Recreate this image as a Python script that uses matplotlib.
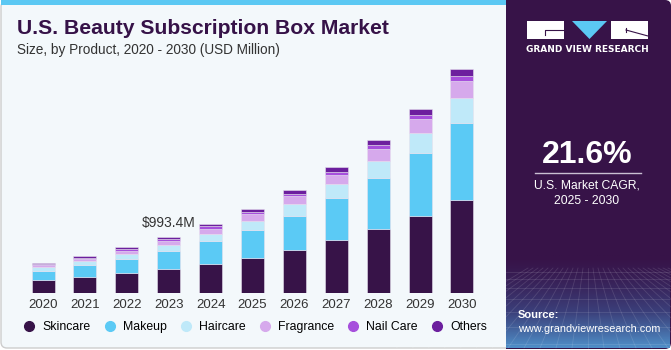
import matplotlib.pyplot as plt
import numpy as np
from matplotlib.patches import FancyBboxPatch, Rectangle, Polygon
from matplotlib.lines import Line2D

years = ["2020", "2021", "2022", "2023", "2024", "2025", "2026", "2027", "2028", "2029", "2030"]
skincare = [223.5, 276.7, 347.7, 418.7, 519.8, 626.2, 768.1, 934.9, 1135.4, 1371.3, 1655.1]
makeup = [172.0, 212.9, 260.8, 319.3, 395.6, 491.4, 603.2, 745.1, 910.1, 1117.6, 1360.7]
haircare = [58.5, 71.0, 88.7, 118.9, 136.6, 165.0, 207.6, 253.7, 301.6, 354.8, 443.5]
fragrance = [35.5, 42.6, 53.2, 65.6, 88.7, 118.9, 136.6, 154.3, 200.5, 236.0, 296.3]
nail_care = [24.8, 23.0, 30.2, 28.4, 40.8, 40.8, 47.9, 58.5, 76.3, 83.4, 101.1]
others = [23.0, 30.2, 28.4, 42.6, 40.8, 47.9, 58.5, 83.4, 83.4, 101.1, 111.8]

segments = ["Skincare", "Makeup", "Haircare", "Fragrance", "Nail Care", "Others"]
colors = ["#371348", "#5bcaf5", "#bfe9f9", "#d6a9ec", "#a64fdc", "#6c1f9e"]
series = [skincare, makeup, haircare, fragrance, nail_care, others]

label_year = "2023"
label_text = "$993.4M"
cagr = "21.6%"

W, H = 671, 350
fig = plt.figure(figsize=(W / 100, H / 100), dpi=100)
fig.patch.set_facecolor("white")
font = "Liberation Sans"

# background panels, drawn in pixel coordinates
bg = fig.add_axes([0, 0, 1, 1])
bg.set_xlim(0, W)
bg.set_ylim(H, 0)
bg.axis("off")
bg.add_patch(FancyBboxPatch((1, 1), W - 2, H - 3, boxstyle="round,pad=0,rounding_size=6",
                            fc="#f3f8fb", ec="#cdcdcd", lw=1))
bg.add_patch(Rectangle((1, 0), 505, 5, fc="#5bc8f3", ec="none"))
bg.add_patch(FancyBboxPatch((506, 0), W - 506, H - 1, boxstyle="round,pad=0,rounding_size=6",
                            fc="#371348", ec="none"))
bg.add_patch(Rectangle((506, 0), 10, H - 1, fc="#371348", ec="none"))

# gradient at the bottom of the side panel
grad = np.linspace(0, 1, 100)[:, None]
cmap = plt.matplotlib.colors.LinearSegmentedColormap.from_list("g", ["#371348", "#3b3f7a", "#4f8fc8"])
bg.imshow(grad ** 1.4, extent=(506, W - 1, H - 2, 255), cmap=cmap, aspect="auto", zorder=1)
for i in range(-12, 22):
    bg.plot([588 + i * 5, 588 + i * 16], [268, H - 2], color="white", alpha=0.12, lw=0.6, zorder=2)
for yy in [272, 279, 288, 299, 312, 327, 344]:
    bg.plot([506, W - 1], [yy, yy], color="white", alpha=0.12, lw=0.6, zorder=2)

# logo
bg.add_patch(Rectangle((527, 21), 37, 18, fc="white", ec="none", zorder=3))
bg.add_patch(Rectangle((611, 21), 37, 18, fc="white", ec="none", zorder=3))
bg.add_patch(Polygon([(572, 21), (607, 21), (589.5, 39)], fc="#5bc8f3", ec="none", zorder=3))
bg.plot([545, 545, 563], [35, 30, 30], color="#371348", lw=0.8, zorder=4)
bg.plot([626, 648], [30, 36], color="#371348", lw=0.8, zorder=4)
bg.plot([626, 626], [28, 32], color="#371348", lw=0.8, zorder=4)
bg.text(587.5, 50, "GRAND VIEW RESEARCH", color="white", fontsize=6.5, fontweight="bold",
        ha="center", va="center", family="DejaVu Sans", zorder=3)

bg.text(587, 155, cagr, color="white", fontsize=23, fontweight="bold", ha="center",
        va="center", family=font)
bg.plot([535, 641], [173, 173], color="#c9bfd2", lw=1)
bg.text(587, 186, "U.S. Market CAGR,", color="white", fontsize=8.7, ha="center", va="center", family=font)
bg.text(587, 201, "2025 - 2030", color="white", fontsize=8.7, ha="center", va="center", family=font)
bg.text(518, 315, "Source:", color="white", fontsize=8, fontweight="bold", ha="left",
        va="center", family=font, zorder=3)
bg.text(518, 329, "www.grandviewresearch.com", color="white", fontsize=7.8, ha="left",
        va="center", family=font, zorder=3)

bg.text(17, 29, "U.S. Beauty Subscription Box Market", color="#361248", fontsize=15.2,
        fontweight="bold", ha="left", va="center", family=font)
bg.text(17, 50, "Size, by Product, 2020 - 2030 (USD Million)", color="#333333", fontsize=9.8,
        ha="left", va="center", family=font)

# chart
px = 17.74  # USD million per pixel
top, base, left, right = 60, 293, 20, 485
ax = fig.add_axes([left / W, (H - base) / H, (right - left) / W, (base - top) / H])
ax.patch.set_alpha(0)
x = np.arange(len(years))
bottom = np.zeros(len(years))
for name, vals, c in zip(segments, series, colors):
    ax.bar(x, vals, 0.55, bottom=bottom, color=c, label=name, edgecolor="#e6e0ee", linewidth=0.4)
    bottom += np.array(vals)
ax.set_xlim(-0.55, len(years) - 0.45)
ax.set_ylim(0, (base - top) * px)
ax.set_xticks(x, years, fontsize=9.5, color="#333333", family=font)
ax.tick_params(axis="x", length=0, pad=4)
ax.set_yticks([])
for s in ax.spines.values():
    s.set_visible(False)

i = years.index(label_year)
ax.annotate(label_text, (x[i], bottom[i]), xytext=(0, 14), textcoords="offset pixels",
            ha="center", va="center", fontsize=10, color="#333333", family=font)

handles = [Line2D([], [], marker="o", ls="", markersize=7, color=c) for c in colors]
fig.legend(handles, segments, loc="center left", bbox_to_anchor=(20 / W, (H - 327) / H),
           ncol=6, frameon=False, handletextpad=0.3, columnspacing=0.85,
           handlelength=1.5, borderaxespad=0, borderpad=0,
           prop={"family": font, "size": 8.8})

fig.savefig("out.png", dpi=100, facecolor="white")
